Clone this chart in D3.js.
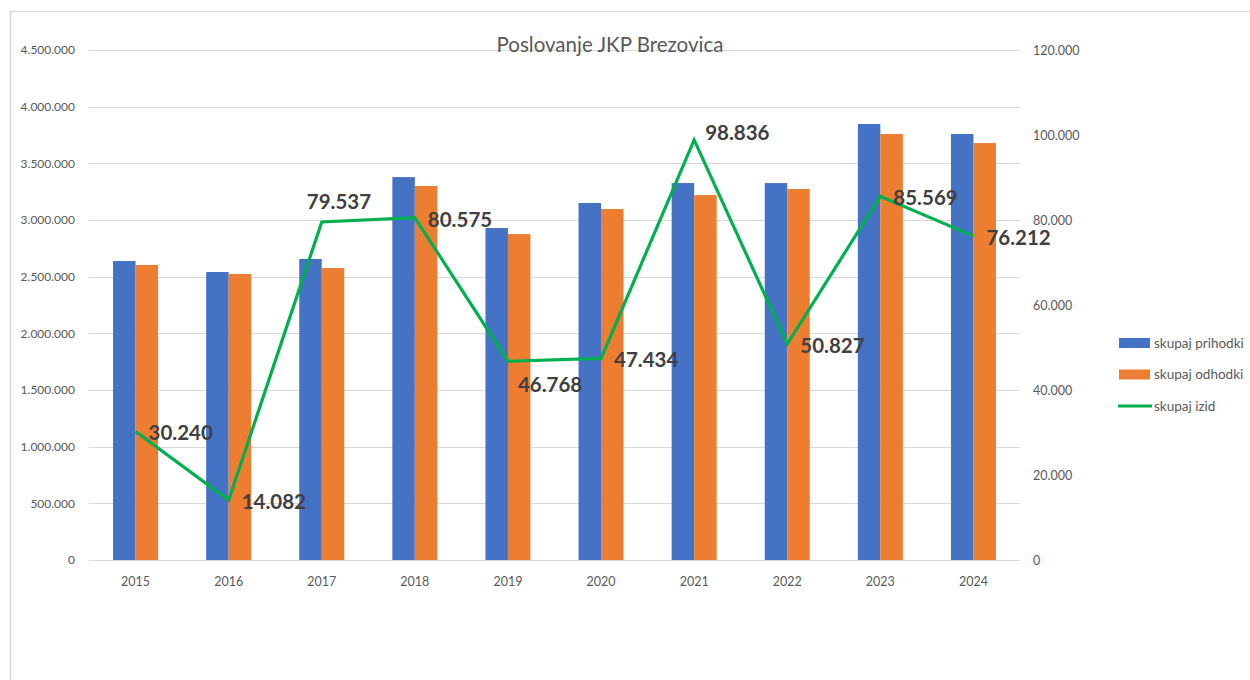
<!DOCTYPE html>
<html><head><meta charset="utf-8">
<script src="https://cdn.jsdelivr.net/npm/d3@7"></script>
<style>body{margin:0;background:#fff}svg{display:block}text{font-family:Lato,"Open Sans",sans-serif}</style>
</head><body><svg id="c" width="1250" height="680"></svg>
<script>
const years = ["2015","2016","2017","2018","2019","2020","2021","2022","2023","2024"];
const prihodki = [2638000,2541000,2656000,3379000,2929000,3150000,3326000,3326000,3847000,3759000];
const odhodki = [2603000,2524000,2576000,3300000,2876000,3097000,3220000,3274000,3759000,3679000];
const izid = [30240,14082,79537,80575,46768,47434,98836,50827,85569,76212];
const izidLabels = ["30.240","14.082","79.537","80.575","46.768","47.434","98.836","50.827","85.569","76.212"];
const labelPlace = ["r","r","t","r","b","r","tr","r","r","r"];
const leftTicks = [0,500000,1000000,1500000,2000000,2500000,3000000,3500000,4000000,4500000];
const rightTicks = [0,20000,40000,60000,80000,100000,120000];
const seriesNames = ["skupaj prihodki","skupaj odhodki","skupaj izid"];
const colors = ["#4472c4","#ed7d31","#00b050"];

const svg = d3.select("#c");
const fmt = v => d3.format(",")(v).replace(/,/g,".");
// outer frame
svg.append("rect").attr("x",10.5).attr("y",11.5).attr("width",1260).attr("height",700)
  .attr("fill","none").attr("stroke","#d9d9d9").attr("stroke-width",1.5);

const x = d3.scaleBand().domain(years).range([89,1020]);
const yL = d3.scaleLinear().domain([0,4500000]).range([560,50]);
const yR = d3.scaleLinear().domain([0,120000]).range([560,50]);

// gridlines
svg.append("g").selectAll("line").data(leftTicks).join("line")
  .attr("x1",89).attr("x2",1020).attr("y1",d=>Math.round(yL(d))+0.5).attr("y2",d=>Math.round(yL(d))+0.5)
  .attr("stroke","#d9d9d9").attr("stroke-width",1.2);

// title
svg.append("text").attr("x",610).attr("y",52).attr("text-anchor","middle")
  .attr("font-size",20.5).attr("fill","#595959").text("Poslovanje JKP Brezovica");

const axisFont = "Lato,'Open Sans',sans-serif";
// left axis
const gl = svg.append("g").attr("transform","translate(89,0)")
  .call(d3.axisLeft(yL).tickValues(leftTicks).tickFormat(fmt).tickSize(0).tickPadding(14));
gl.select(".domain").remove();
gl.selectAll("text").attr("font-size",12).attr("fill","#595959").style("font-family",axisFont);

// right axis
const gr = svg.append("g").attr("transform","translate(1020,0)")
  .call(d3.axisRight(yR).tickValues(rightTicks).tickFormat(fmt).tickSize(0).tickPadding(13));
gr.select(".domain").remove();
gr.selectAll("text").attr("font-size",12.5).attr("fill","#595959").style("font-family",axisFont);

// bottom axis
const gb = svg.append("g").attr("transform","translate(0,560)")
  .call(d3.axisBottom(x).tickSize(0).tickPadding(17));
gb.select(".domain").remove();
gb.selectAll("text").attr("font-size",12.5).attr("fill","#595959").style("font-family",axisFont);

// bars
const bw = 22.5;
svg.append("g").selectAll("rect").data(years).join("rect")
  .attr("x",d=>x(d)+x.bandwidth()/2-bw).attr("width",bw)
  .attr("y",(d,i)=>yL(prihodki[i])).attr("height",(d,i)=>yL(0)-yL(prihodki[i]))
  .attr("fill",colors[0]);
svg.append("g").selectAll("rect").data(years).join("rect")
  .attr("x",d=>x(d)+x.bandwidth()/2).attr("width",bw)
  .attr("y",(d,i)=>yL(odhodki[i])).attr("height",(d,i)=>yL(0)-yL(odhodki[i]))
  .attr("fill",colors[1]);

// line
const line = d3.line().x((d,i)=>x(years[i])+x.bandwidth()/2).y(d=>yR(d));
svg.append("path").datum(izid).attr("d",line).attr("fill","none")
  .attr("stroke",colors[2]).attr("stroke-width",3.2).attr("stroke-linejoin","miter");

// labels
const off = {r:[13,9], t:[-15,-13], tr:[11,0], b:[10,31]};
svg.append("g").selectAll("text").data(izid).join("text")
  .attr("x",(d,i)=>x(years[i])+x.bandwidth()/2+off[labelPlace[i]][0])
  .attr("y",(d,i)=>yR(d)+off[labelPlace[i]][1])
  .attr("font-size",20.5).attr("font-weight","bold").attr("fill","#404040")
  .text((d,i)=>izidLabels[i]);

// legend
const lg = svg.append("g");
seriesNames.forEach((n,i)=>{
  const yy = 343 + i*31.5;
  if(i<2) lg.append("rect").attr("x",1119).attr("y",yy-5).attr("width",31).attr("height",10).attr("fill",colors[i]);
  else lg.append("line").attr("x1",1118).attr("x2",1152).attr("y1",yy).attr("y2",yy).attr("stroke",colors[i]).attr("stroke-width",3.2);
  lg.append("text").attr("x",1154).attr("y",yy+4.5).attr("font-size",13.5).attr("fill","#595959").text(n);
});
</script></body></html>
